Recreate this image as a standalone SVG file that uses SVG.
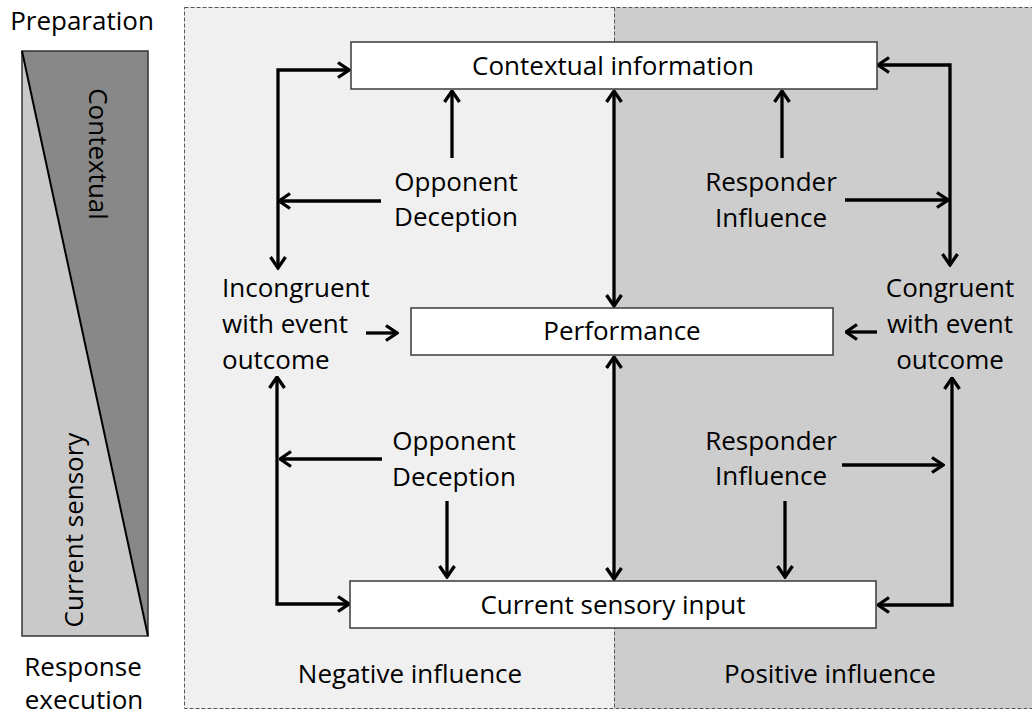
<svg xmlns="http://www.w3.org/2000/svg" width="1032" height="718" viewBox="0 0 1032 718">
<style>
text{font-family:"Open Sans","DejaVu Sans",sans-serif;font-size:26px;fill:#000}
.c{text-anchor:middle}
.box{fill:#fff;stroke:#3a3a3a;stroke-width:1.5}
.ln{fill:none;stroke:#000;stroke-width:3.3}
</style>
<defs>
<marker id="ah" viewBox="0 0 14 18" refX="12.5" refY="9" markerWidth="14" markerHeight="18" markerUnits="userSpaceOnUse" orient="auto-start-reverse">
<path d="M1.5,1.5 L12.5,9 L1.5,16.5" fill="none" stroke="#000" stroke-width="3.3"/>
</marker>
</defs>
<rect width="1032" height="718" fill="#fff"/>
<g id="background">
<rect x="184.5" y="7.5" width="430" height="701" fill="#f0f0f0"/>
<rect x="614.5" y="7.5" width="430" height="701" fill="#cdcdcd"/>
<rect x="184.5" y="7.5" width="860" height="701" fill="none" stroke="#555" stroke-width="1" stroke-dasharray="4,2"/>
<line x1="614.5" y1="7.5" x2="614.5" y2="708.5" stroke="#555" stroke-width="1" stroke-dasharray="4,2"/>
</g>
<g id="phase-bar">
<polygon points="22,51 148,51 148,636" fill="#888"/>
<polygon points="22,51 148,636 22,636" fill="#c9c9c9"/>
<rect x="22" y="51" width="126" height="585" fill="none" stroke="#333" stroke-width="1.5"/>
<line x1="22" y1="51" x2="148" y2="636" stroke="#000" stroke-width="2"/>
<text class="c" transform="translate(89,154) rotate(90)">Contextual</text>
<text class="c" transform="translate(83,530) rotate(-90)">Current sensory</text>
<text class="c" x="82" y="30">Preparation</text>
<text class="c" x="83" y="676">Response</text>
<text class="c" x="84" y="709">execution</text>
</g>
<g id="connectors">
<path class="ln" d="M349,70 L278,70 L278,268" marker-start="url(#ah)" marker-end="url(#ah)"/>
<path class="ln" d="M381,201 L279,201" marker-end="url(#ah)"/>
<path class="ln" d="M452,158 L452,91" marker-end="url(#ah)"/>
<path class="ln" d="M614,91 L614,306" marker-start="url(#ah)" marker-end="url(#ah)"/>
<path class="ln" d="M614,357 L614,579" marker-start="url(#ah)" marker-end="url(#ah)"/>
<path class="ln" d="M782,158 L782,91" marker-end="url(#ah)"/>
<path class="ln" d="M878,65 L950,65 L950,265" marker-start="url(#ah)" marker-end="url(#ah)"/>
<path class="ln" d="M845,200 L948,200" marker-end="url(#ah)"/>
<path class="ln" d="M366,333 L397,333" marker-end="url(#ah)"/>
<path class="ln" d="M877,332 L846,332" marker-end="url(#ah)"/>
<path class="ln" d="M277,377 L277,604 L349,604" marker-start="url(#ah)" marker-end="url(#ah)"/>
<path class="ln" d="M382,459 L280,459" marker-end="url(#ah)"/>
<path class="ln" d="M447,501 L447,577" marker-end="url(#ah)"/>
<path class="ln" d="M785,501 L785,577" marker-end="url(#ah)"/>
<path class="ln" d="M842,465 L943,465" marker-end="url(#ah)"/>
<path class="ln" d="M952,378 L952,605 L878,605" marker-start="url(#ah)" marker-end="url(#ah)"/>
</g>
<g id="contextual-information">
<rect class="box" x="351" y="42" width="526" height="47"/>
<text class="c" x="613" y="75">Contextual information</text>
</g>
<g id="performance">
<rect class="box" x="411" y="308" width="422" height="47"/>
<text class="c" x="622" y="340">Performance</text>
</g>
<g id="current-sensory-input">
<rect class="box" x="350" y="581" width="526" height="47"/>
<text class="c" x="613" y="614">Current sensory input</text>
</g>
<g id="opponent-deception-top">
<text class="c" x="456" y="191">Opponent</text>
<text class="c" x="456" y="226">Deception</text>
</g>
<g id="responder-influence-top">
<text class="c" x="771" y="191">Responder</text>
<text class="c" x="771" y="227">Influence</text>
</g>
<g id="incongruent">
<text x="222" y="297">Incongruent</text>
<text x="222" y="333">with event</text>
<text x="222" y="369">outcome</text>
</g>
<g id="congruent">
<text class="c" x="950" y="297">Congruent</text>
<text class="c" x="950" y="333">with event</text>
<text class="c" x="950" y="369">outcome</text>
</g>
<g id="opponent-deception-bottom">
<text class="c" x="454" y="450">Opponent</text>
<text class="c" x="454" y="486">Deception</text>
</g>
<g id="responder-influence-bottom">
<text class="c" x="771" y="450">Responder</text>
<text class="c" x="771" y="485">Influence</text>
</g>
<g id="negative-influence">
<text class="c" x="410" y="683">Negative influence</text>
</g>
<g id="positive-influence">
<text class="c" x="830" y="683">Positive influence</text>
</g>
</svg>
